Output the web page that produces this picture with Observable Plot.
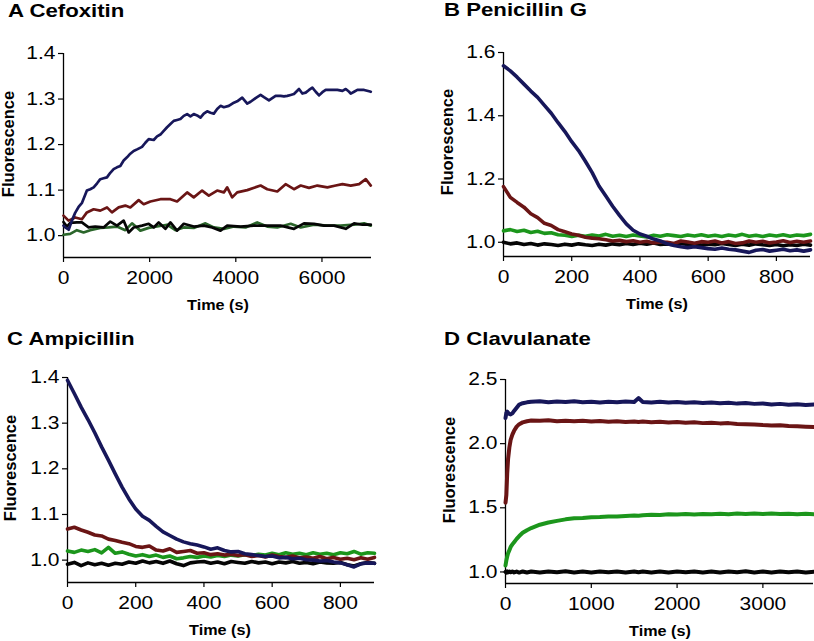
<!DOCTYPE html>
<html>
<head>
<meta charset="utf-8">
<script src="https://cdn.jsdelivr.net/npm/d3@7"></script>
<script src="https://cdn.jsdelivr.net/npm/@observablehq/plot@0.6"></script>
<style>
  html, body { margin: 0; padding: 0; background: #fff; }
  #wrap { position: relative; width: 814px; height: 641px; overflow: hidden; background: #fff; font-family: "Liberation Sans", Arial, sans-serif; color: #000; }
  .panel { position: absolute; }
  .panel svg { display: block; }
  .ptitle { position: absolute; font-weight: bold; font-size: 18.5px; line-height: 20px; white-space: pre; transform: scaleX(1.2); transform-origin: 0 50%; }
  .xlab { position: absolute; width: 200px; text-align: center; font-weight: bold; font-size: 15px; line-height: 15px; white-space: pre; transform: scaleX(1.08); transform-origin: 50% 50%; }
  .ylab { position: absolute; width: 200px; height: 14px; text-align: center; font-weight: bold; font-size: 16.5px; line-height: 14px; white-space: pre; transform: rotate(-90deg); transform-origin: 50% 50%; }
</style>
</head>
<body>
<div id="wrap"></div>
<script>
// ---------- Panel titles & axis labels ----------
const panelTitles = ["A Cefoxitin", "B Penicillin G", "C Ampicillin", "D Clavulanate"];
const yAxisLabel = "Fluorescence";
const xAxisLabel = "Time (s)";

// ---------- Panel A: Cefoxitin ----------
const aXTicks = [0, 2000, 4000, 6000];
const aYTicks = [1.0, 1.1, 1.2, 1.3, 1.4];
const aBlue = [[0,1.022],[40,1.018],[120,1.013],[195,1.033],[270,1.050],[350,1.063],[430,1.072],[543,1.099],[620,1.102],[700,1.106],[780,1.115],[854,1.124],[930,1.126],[1009,1.128],[1086,1.138],[1164,1.146],[1241,1.150],[1319,1.153],[1396,1.165],[1474,1.172],[1551,1.180],[1629,1.186],[1720,1.190],[1823,1.195],[1900,1.204],[1978,1.212],[2094,1.210],[2172,1.218],[2249,1.222],[2327,1.230],[2404,1.238],[2482,1.245],[2559,1.252],[2637,1.254],[2714,1.256],[2792,1.263],[2870,1.267],[2947,1.262],[3024,1.267],[3102,1.264],[3180,1.259],[3257,1.268],[3335,1.273],[3413,1.270],[3490,1.268],[3567,1.278],[3645,1.285],[3722,1.282],[3838,1.285],[3955,1.292],[4032,1.295],[4148,1.303],[4265,1.290],[4342,1.294],[4459,1.302],[4575,1.309],[4653,1.304],[4769,1.297],[4846,1.302],[4924,1.307],[5040,1.307],[5118,1.306],[5195,1.307],[5273,1.309],[5350,1.311],[5467,1.322],[5545,1.312],[5622,1.314],[5700,1.320],[5777,1.325],[5855,1.316],[5932,1.308],[6010,1.315],[6087,1.320],[6200,1.320],[6358,1.320],[6475,1.318],[6552,1.322],[6630,1.316],[6668,1.312],[6746,1.316],[6823,1.320],[6978,1.320],[7095,1.317],[7134,1.316]];
const aRed = [[0,1.044],[117,1.033],[272,1.040],[427,1.036],[543,1.051],[699,1.058],[854,1.055],[1009,1.062],[1125,1.051],[1280,1.062],[1435,1.066],[1551,1.062],[1745,1.078],[1862,1.069],[2017,1.075],[2249,1.080],[2482,1.080],[2637,1.075],[2870,1.095],[3024,1.084],[3218,1.099],[3373,1.088],[3567,1.099],[3722,1.095],[3800,1.106],[3916,1.084],[4032,1.095],[4265,1.100],[4575,1.110],[4730,1.102],[4963,1.097],[5156,1.113],[5350,1.102],[5506,1.110],[5699,1.105],[5893,1.110],[6126,1.106],[6320,1.110],[6475,1.113],[6668,1.110],[6862,1.113],[7017,1.124],[7134,1.110]];
const aBlack = [[0,1.030],[80,1.020],[156,1.028],[311,1.029],[427,1.029],[582,1.018],[737,1.020],[931,1.018],[1086,1.031],[1241,1.022],[1396,1.033],[1513,1.007],[1629,1.018],[1823,1.022],[1978,1.026],[2094,1.018],[2210,1.029],[2365,1.015],[2482,1.029],[2637,1.011],[2792,1.026],[3024,1.020],[3257,1.022],[3451,1.018],[3645,1.011],[3800,1.022],[4110,1.020],[4420,1.022],[4730,1.022],[5040,1.022],[5350,1.015],[5583,1.027],[5816,1.026],[6048,1.022],[6281,1.022],[6552,1.015],[6746,1.027],[6940,1.024],[7134,1.024]];
const aGreen = [[0,1.002],[156,1.004],[311,1.012],[466,1.007],[621,1.012],[854,1.017],[1047,1.018],[1241,1.020],[1435,1.012],[1590,1.027],[1784,1.011],[1978,1.017],[2172,1.020],[2404,1.024],[2598,1.012],[2792,1.018],[3024,1.017],[3296,1.027],[3490,1.018],[3722,1.015],[3955,1.020],[4226,1.018],[4497,1.029],[4730,1.020],[4963,1.018],[5273,1.026],[5506,1.018],[5816,1.024],[6126,1.022],[6436,1.022],[6746,1.024],[6978,1.027],[7134,1.022]];

// ---------- Panel B: Penicillin G ----------
const bXTicks = [0, 200, 400, 600, 800];
const bYTicks = [1.0, 1.2, 1.4, 1.6];
const bTime = [0,20,40,60,80,100,120,140,160,180,
  200,220,240,260,280,300,320,340,360,380,
  400,420,440,460,480,500,520,540,560,580,
  600,620,640,660,680,700,720,740,760,780,
  800,820,840,860,880,900];
const bBlue = [1.558,1.542,1.522,1.500,1.478,1.458,1.433,1.408,1.378,1.350,
  1.318,1.290,1.256,1.220,1.178,1.146,1.114,1.085,1.058,1.038,
  1.026,1.019,1.010,1.004,0.995,0.990,0.986,0.983,0.986,0.983,
  0.980,0.978,0.982,0.978,0.976,0.972,0.968,0.975,0.977,0.972,
  0.975,0.978,0.973,0.976,0.972,0.976];
const bRed = [1.176,1.142,1.126,1.111,1.090,1.078,1.060,1.053,1.040,1.033,
  1.026,1.022,1.016,1.013,1.011,1.008,1.004,1.006,1.002,1.005,
  1.000,1.003,0.998,1.001,1.000,0.996,1.004,1.001,0.997,1.002,
  1.000,1.004,0.998,1.002,0.996,0.998,1.004,1.000,1.003,0.998,
  1.001,1.005,0.999,1.003,1.000,1.004];
const bGreen = [1.036,1.040,1.034,1.038,1.031,1.035,1.028,1.030,1.024,1.022,
  1.018,1.022,1.019,1.023,1.020,1.025,1.019,1.022,1.018,1.023,
  1.020,1.017,1.022,1.019,1.024,1.021,1.018,1.023,1.020,1.024,
  1.019,1.022,1.018,1.023,1.020,1.025,1.019,1.022,1.018,1.023,
  1.020,1.024,1.019,1.023,1.021,1.025];
const bBlack = [1.000,0.995,0.998,0.993,0.996,0.991,0.995,0.993,0.990,0.994,
  0.991,0.995,0.992,0.990,0.994,0.991,0.995,0.992,0.996,0.993,
  0.997,0.994,0.998,0.993,0.995,0.992,0.996,0.993,0.995,0.991,
  0.994,0.992,0.996,0.993,0.990,0.994,0.991,0.995,0.992,0.990,
  0.993,0.989,0.992,0.990,0.994,0.991];

// ---------- Panel C: Ampicillin ----------
const cXTicks = [0, 200, 400, 600, 800];
const cYTicks = [1.0, 1.1, 1.2, 1.3, 1.4];
const cTime = [0,20,40,60,80,100,120,140,160,180,
  200,220,240,260,280,300,320,340,360,380,
  400,420,440,460,480,500,520,540,560,580,
  600,620,640,660,680,700,720,740,760,780,
  800,820,840,860,880,900];
const cBlue = [1.394,1.365,1.335,1.308,1.279,1.248,1.219,1.189,1.160,1.134,
  1.112,1.096,1.087,1.074,1.062,1.054,1.046,1.040,1.036,1.033,
  1.029,1.024,1.027,1.021,1.018,1.019,1.014,1.012,1.010,1.008,
  1.009,1.005,1.006,1.003,1.004,1.001,1.000,0.998,0.999,0.996,
  0.994,0.990,0.985,0.992,0.994,0.993];
const cRed = [1.068,1.072,1.066,1.061,1.055,1.053,1.046,1.043,1.039,1.036,
  1.030,1.028,1.031,1.022,1.020,1.025,1.017,1.019,1.021,1.015,
  1.016,1.012,1.014,1.011,1.013,1.010,1.012,1.008,1.010,1.007,
  1.011,1.008,1.006,1.009,1.005,1.007,1.004,1.008,1.003,1.006,
  1.002,1.004,1.001,1.005,1.002,1.006];
const cGreen = [1.020,1.017,1.022,1.019,1.023,1.016,1.028,1.015,1.018,1.013,
  1.009,1.012,1.008,1.011,1.006,1.009,1.003,1.005,1.008,1.006,
  1.009,1.007,1.010,1.008,1.011,1.009,1.012,1.010,1.013,1.011,
  1.015,1.012,1.016,1.013,1.015,1.012,1.016,1.013,1.015,1.012,
  1.016,1.014,1.019,1.013,1.016,1.015];
const cBlack = [0.991,0.995,0.988,0.994,0.990,0.993,0.989,0.993,0.991,0.996,
  0.993,0.998,0.994,0.997,0.993,0.998,0.992,0.988,0.994,0.996,
  0.997,0.993,0.996,0.992,0.997,0.995,0.993,0.997,0.994,0.996,
  0.992,0.996,0.994,0.997,0.993,0.995,0.992,0.996,0.994,0.993,
  0.995,0.990,0.987,0.992,0.995,0.993];

// ---------- Panel D: Clavulanate ----------
const dXTicks = [0, 1000, 2000, 3000];
const dYTicks = [1.0, 1.5, 2.0, 2.5];
const dTime = [0,10,20,30,45,60,80,100,130,160,
  200,250,300,400,500,600,700,800,900,1000,
  1100,1200,1300,1400,1500,1550,1600,1700,1800,1900,
  2000,2100,2200,2300,2400,2500,2600,2700,2800,2900,
  3000,3100,3200,3300,3400,3500,3600];
const dBlue = [2.200,2.240,2.250,2.240,2.232,2.228,2.236,2.255,2.280,2.305,
  2.315,2.322,2.326,2.330,2.322,2.328,2.324,2.330,2.322,2.327,
  2.320,2.326,2.322,2.328,2.324,2.355,2.325,2.320,2.327,2.320,
  2.325,2.318,2.322,2.317,2.321,2.315,2.318,2.312,2.316,2.310,
  2.313,2.306,2.310,2.304,2.308,2.302,2.305];
const dRed = [1.540,1.600,1.770,1.880,1.970,2.030,2.070,2.100,2.133,2.152,
  2.166,2.175,2.180,2.178,2.182,2.175,2.179,2.174,2.178,2.172,
  2.176,2.170,2.175,2.169,2.173,2.168,2.172,2.166,2.170,2.165,
  2.168,2.163,2.166,2.160,2.163,2.158,2.160,2.154,2.152,2.150,
  2.145,2.142,2.144,2.138,2.135,2.132,2.130];
const dGreen = [1.050,1.090,1.120,1.145,1.170,1.195,1.215,1.232,1.258,1.280,
  1.305,1.325,1.342,1.368,1.385,1.398,1.410,1.418,1.420,1.426,
  1.428,1.433,1.432,1.437,1.440,1.438,1.442,1.446,1.444,1.449,
  1.447,1.451,1.448,1.452,1.449,1.453,1.450,1.455,1.452,1.456,
  1.452,1.455,1.451,1.454,1.450,1.453,1.450];
const dBlack = [1.000,0.995,1.004,0.996,1.003,0.997,1.004,0.996,1.003,0.995,
  1.004,0.996,1.003,0.995,1.004,0.997,1.005,0.996,1.003,0.995,
  1.004,0.997,1.003,0.995,1.004,0.998,1.003,0.996,1.004,0.995,
  1.003,0.997,1.004,0.996,1.003,0.995,1.004,0.997,1.005,0.996,
  1.003,0.995,1.004,0.997,1.003,0.996,1.002];

// ---------- colours ----------
const NAVY = "#17175a", MAROON = "#6a1515", GREEN = "#1c961c", DKGREEN = "#2b662b", BLACK = "#050505";

const wrap = document.getElementById("wrap");

function stretchTickLabels(svg, k) {
  svg.querySelectorAll('g[aria-label="x-axis tick label"] text, g[aria-label="y-axis tick label"] text').forEach(t => {
    const tr = t.getAttribute("transform");
    if (tr) {
      t.setAttribute("transform", tr + ` scale(${k},1)`);
    } else {
      const x = +(t.getAttribute("x") || 0), y = +(t.getAttribute("y") || 0);
      t.removeAttribute("x"); t.removeAttribute("y");
      t.setAttribute("transform", `translate(${x},${y}) scale(${k},1)`);
    }
  });
}

function panel(cfg) {
  const div = document.createElement("div");
  div.className = "panel";
  div.style.left = cfg.left + "px";
  div.style.top = cfg.top + "px";
  const marks = [
    Plot.axisX({ticks: cfg.xTicks, tickSize: 5, tickPadding: 9, tickFormat: d3.format("d"), label: null, strokeWidth: 1.2}),
    Plot.axisY({ticks: cfg.yTicks, tickSize: 5, tickPadding: 3, tickFormat: d3.format(".1f"), label: null, strokeWidth: 1.2}),
    Plot.ruleX([cfg.xDomain[0]], {stroke: "#000", strokeWidth: 1.3}),
    Plot.ruleY([cfg.yDomain[0]], {stroke: "#000", strokeWidth: 1.3}),
    ...cfg.series.map(s => Plot.line(s.data, {stroke: s.color, strokeWidth: cfg.sw, strokeLinejoin: "round", strokeLinecap: "round"}))
  ];
  const svg = Plot.plot({
    width: cfg.width, height: cfg.height,
    marginLeft: cfg.m[0], marginRight: cfg.m[1], marginTop: cfg.m[2], marginBottom: cfg.m[3],
    x: {domain: cfg.xDomain},
    y: {domain: cfg.yDomain},
    style: {fontFamily: "Liberation Sans", fontSize: "17.5px", color: "#000", background: "transparent", overflow: "visible"},
    marks
  });
  stretchTickLabels(svg, 1.2);
  div.appendChild(svg);
  wrap.appendChild(div);
}

function title(text, left, top) {
  const d = document.createElement("div");
  d.className = "ptitle";
  d.textContent = text;
  d.style.left = left + "px";
  d.style.top = top + "px";
  wrap.appendChild(d);
}
function xlab(cx, baseline) {
  const d = document.createElement("div");
  d.className = "xlab";
  d.textContent = xAxisLabel;
  d.style.left = (cx - 100) + "px";
  d.style.top = (baseline - 12.7) + "px";
  wrap.appendChild(d);
}
function ylab(cx, cy) {
  const d = document.createElement("div");
  d.className = "ylab";
  d.textContent = yAxisLabel;
  d.style.left = (cx - 100) + "px";
  d.style.top = (cy - 7) + "px";
  wrap.appendChild(d);
}

// Panel A
panel({left: 0, top: 0, width: 407, height: 320, m: [63, 36, 53, 63],
  xDomain: [0, 7150], yDomain: [0.952, 1.4], xTicks: aXTicks, yTicks: aYTicks, sw: 2.7,
  series: [
    {data: aGreen, color: DKGREEN},
    {data: aBlack, color: BLACK},
    {data: aRed, color: MAROON},
    {data: aBlue, color: NAVY}
  ]});
// Panel B
panel({left: 407, top: 0, width: 407, height: 320, m: [96, 4, 52, 64],
  xDomain: [0, 900], yDomain: [0.955, 1.6], xTicks: bXTicks, yTicks: bYTicks, sw: 3.6,
  series: [
    {data: d3.zip(bTime, bBlack), color: BLACK},
    {data: d3.zip(bTime, bGreen), color: GREEN},
    {data: d3.zip(bTime, bRed), color: MAROON},
    {data: d3.zip(bTime, bBlue), color: NAVY}
  ]});
// Panel C
panel({left: 0, top: 320, width: 407, height: 321, m: [67, 33, 57, 59],
  xDomain: [0, 900], yDomain: [0.951, 1.4], xTicks: cXTicks, yTicks: cYTicks, sw: 3.6,
  series: [
    {data: d3.zip(cTime, cBlack), color: BLACK},
    {data: d3.zip(cTime, cGreen), color: GREEN},
    {data: d3.zip(cTime, cRed), color: MAROON},
    {data: d3.zip(cTime, cBlue), color: NAVY}
  ]});
// Panel D
panel({left: 407, top: 320, width: 407, height: 321, m: [98, 1, 59, 58],
  xDomain: [0, 3590], yDomain: [0.91, 2.5], xTicks: dXTicks, yTicks: dYTicks, sw: 4,
  series: [
    {data: d3.zip(dTime, dBlack), color: BLACK},
    {data: d3.zip(dTime, dGreen), color: GREEN},
    {data: d3.zip(dTime, dRed), color: MAROON},
    {data: d3.zip(dTime, dBlue), color: NAVY}
  ]});

// Titles and axis labels
title(panelTitles[0], 8, 0.6);
title(panelTitles[1], 443.7, -0.4);
title(panelTitles[2], 7.3, 328.6);
title(panelTitles[3], 443.7, 328.6);

ylab(8.3, 143.5); ylab(447, 142); ylab(9.9, 468); ylab(448.7, 470);
xlab(217.5, 310); xlab(657, 308.5); xlab(220, 635); xlab(660, 635.5);
</script>
</body>
</html>
